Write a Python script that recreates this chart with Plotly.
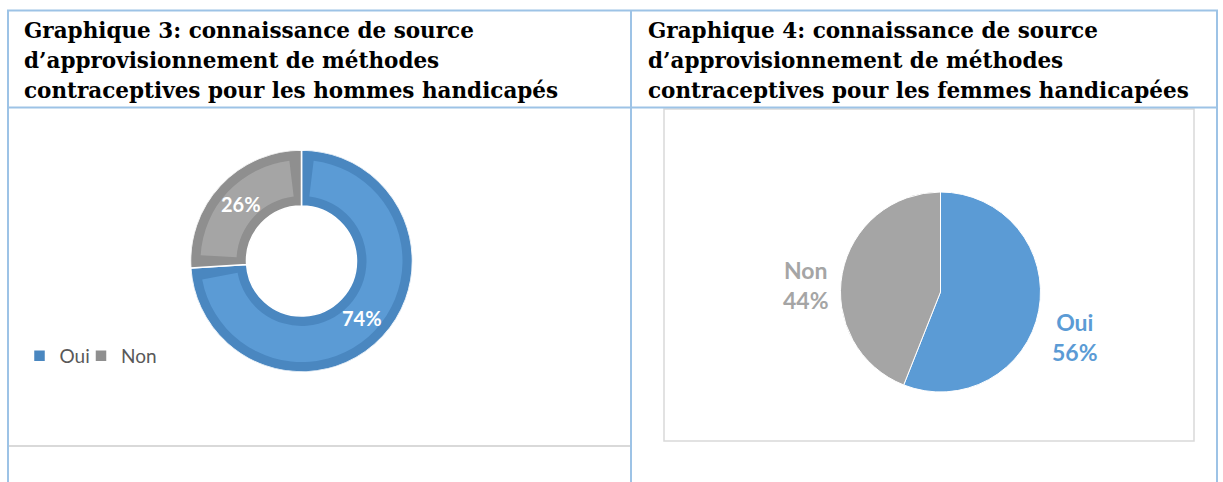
import math
import plotly.graph_objects as go

W, H = 1223, 482

# ---- data ----
labels = ["Oui", "Non"]
hommes_values = [74, 26]
femmes_values = [56, 44]

title_left = ["Graphique 3: connaissance de source",
              "d\u2019approvisionnement de méthodes",
              "contraceptives pour les hommes handicapés"]
title_right = ["Graphique 4: connaissance de source",
               "d\u2019approvisionnement de méthodes",
               "contraceptives pour les femmes handicapées"]

light = ["#5B9BD5", "#A5A5A5"]
dark = ["#4A87C0", "#8F8F8F"]

def px(x):
    return x / W

def py(y):
    return 1 - y / H

fig = go.Figure()

# ---- Donut (left), drawn as polar bars: dark ring + lighter inset ring ----
cx, cy, R, band, rin = 301.5, 261, 111, 10, 55
total = sum(hommes_values)
gap_deg = math.degrees(band / ((rin + R) / 2))
legend_ids = ["legend", "legend2"]
cum = 0
for lab, v, cd, cl, lg in zip(labels, hommes_values, dark, light, legend_ids):
    mid = (cum + v / 2) / total * 360
    wdt = v / total * 360
    cum += v
    fig.add_trace(go.Barpolar(
        r=[R - rin], base=[rin], theta=[mid], width=[wdt], name=lab, legend=lg,
        marker=dict(color=cd, line=dict(color="white", width=1.5)),
        showlegend=True, hovertemplate=f"{lab}: {v}%<extra></extra>",
    ))
    fig.add_trace(go.Barpolar(
        r=[(R - band) - (rin + band)], base=[rin + band], theta=[mid], width=[wdt - 2 * gap_deg],
        marker=dict(color=cl, line=dict(width=0)),
        showlegend=False, hoverinfo="skip",
    ))

# ---- Pie (right) ----
cx2, cy2, R2 = 940.5, 292, 100
total2 = sum(femmes_values)
fig.add_trace(go.Pie(
    labels=labels, values=femmes_values, sort=False, direction="clockwise", rotation=0,
    domain=dict(x=[px(cx2 - R2), px(cx2 + R2)], y=[py(cy2 + R2), py(cy2 - R2)]),
    marker=dict(colors=light, line=dict(color="white", width=1)),
    textinfo="none", showlegend=False, hoverinfo="label+percent",
))

shapes = []
blue = "#9DC3E6"
gray = "#D9D9D9"
def line(x0, y0, x1, y1, color, width):
    shapes.append(dict(type="line", xref="paper", yref="paper",
                       x0=px(x0), y0=py(y0), x1=px(x1), y1=py(y1),
                       line=dict(color=color, width=width)))

# left chart frame bottom
line(9, 446, 630, 446, gray, 2)
# right chart frame
shapes.append(dict(type="rect", xref="paper", yref="paper",
                   x0=px(664), y0=py(441), x1=px(1194), y1=py(109),
                   line=dict(color=gray, width=1.5)))
# table borders
line(7, 10.5, 1218, 10.5, blue, 2)
line(7, 107.5, 1218, 107.5, blue, 2)
line(8, 10, 8, 482, blue, 2)
line(631, 10, 631, 482, blue, 2)
line(1217, 10, 1217, 482, blue, 2)

annotations = []
line_y = [30, 60, 90]
title_font = dict(family="DejaVu Serif", size=21.5, color="black", weight="bold")
for txt, yy in zip(title_left, line_y):
    annotations.append(dict(text=txt, x=px(22), y=py(yy), xref="paper", yref="paper",
                            xanchor="left", yanchor="middle", showarrow=False, font=title_font))
for txt, yy in zip(title_right, line_y):
    annotations.append(dict(text=txt, x=px(646), y=py(yy), xref="paper", yref="paper",
                            xanchor="left", yanchor="middle", showarrow=False, font=title_font))

# donut percentage labels placed at the mid-angle of each slice
cum = 0
r_lab = 83
for v in hommes_values:
    mid = (cum + v / 2) / total * 2 * math.pi
    cum += v
    lx = cx + r_lab * math.sin(mid)
    ly = cy - r_lab * math.cos(mid)
    annotations.append(dict(text=f"{round(100 * v / total)}%", x=px(lx), y=py(ly),
                            xref="paper", yref="paper", xanchor="center", yanchor="middle",
                            showarrow=False,
                            font=dict(family="Lato", size=20, color="white", weight="bold")))

# pie outside labels (category + percent), outside each slice's mid-angle
cum = 0
r_out, dy_out = 137, 19
for lab, v, col in zip(labels, femmes_values, light):
    mid = (cum + v / 2) / total2 * 2 * math.pi
    cum += v
    lx = cx2 + r_out * math.sin(mid)
    ly = cy2 - r_out * math.cos(mid) + dy_out
    annotations.append(dict(text=f"{lab}<br>{round(100 * v / total2)}%", x=px(lx), y=py(ly),
                            xref="paper", yref="paper", xanchor="center", yanchor="middle",
                            showarrow=False, align="center",
                            font=dict(family="Lato", size=23, color=col, weight="bold")))

leg_common = dict(orientation="h", xanchor="left", yanchor="middle",
                  font=dict(family="Lato", size=19, color="#595959"),
                  itemwidth=30, bgcolor="rgba(0,0,0,0)")

fig.update_layout(
    width=W, height=H, autosize=False,
    margin=dict(l=0, r=0, t=0, b=0),
    paper_bgcolor="white", plot_bgcolor="white",
    shapes=shapes, annotations=annotations,
    polar=dict(
        domain=dict(x=[px(cx - R), px(cx + R)], y=[py(cy + R), py(cy - R)]),
        bgcolor="rgba(0,0,0,0)", barmode="overlay", hole=0,
        radialaxis=dict(range=[0, R], visible=False, showgrid=False, showline=False, ticks=""),
        angularaxis=dict(direction="clockwise", rotation=90, visible=False,
                         showgrid=False, showline=False, ticks=""),
    ),
    legend=dict(x=px(19.5), y=py(356), **leg_common),
    legend2=dict(x=px(81), y=py(356), **leg_common),
)

fig.write_html("out.html")
